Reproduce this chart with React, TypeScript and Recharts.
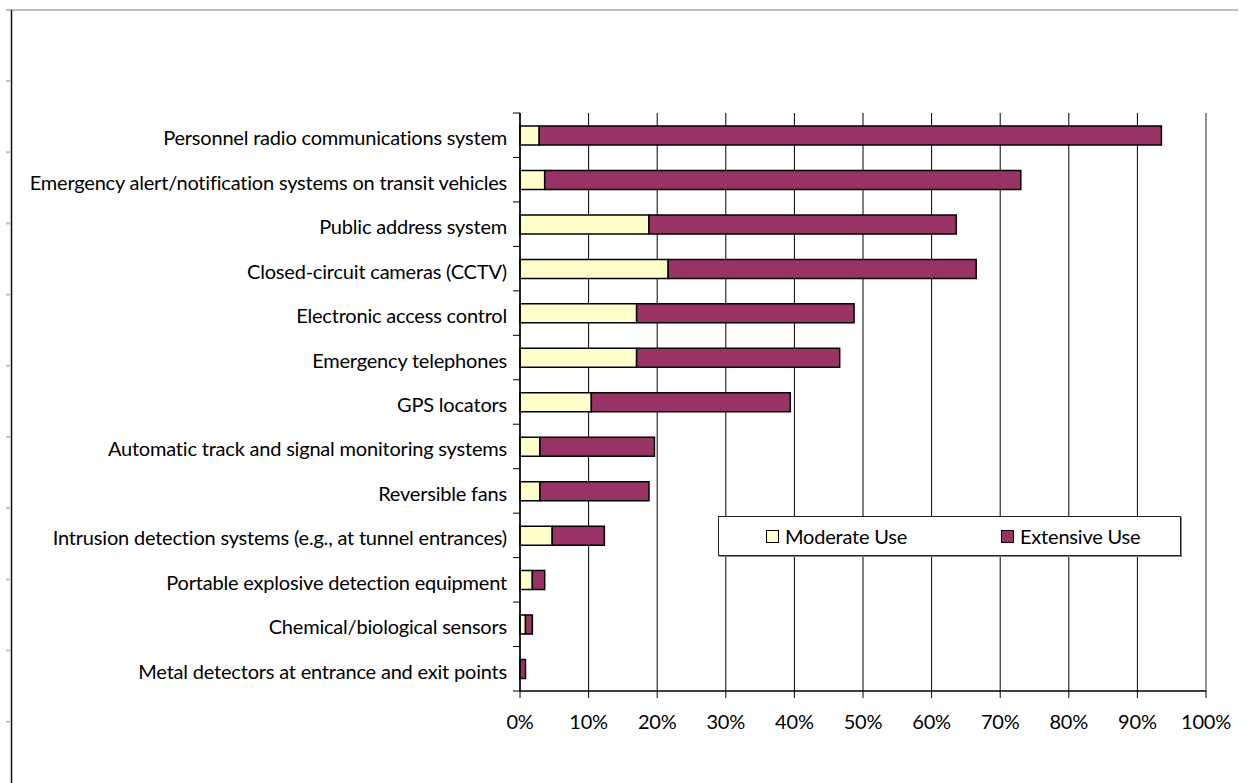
import React from 'react';
import { BarChart, Bar, XAxis, YAxis, CartesianGrid, Legend, ReferenceLine } from 'recharts';

// Security technology usage among transit agencies (percent of respondents)
const categories: string[] = [
  'Personnel radio communications system',
  'Emergency alert/notification systems on transit vehicles',
  'Public address system',
  'Closed-circuit cameras (CCTV)',
  'Electronic access control',
  'Emergency telephones',
  'GPS locators',
  'Automatic track and signal monitoring systems',
  'Reversible fans',
  'Intrusion detection systems (e.g., at tunnel entrances)',
  'Portable explosive detection equipment',
  'Chemical/biological sensors',
  'Metal detectors at entrance and exit points',
];

const moderateUse: number[] = [2.8, 3.6, 18.8, 21.6, 17.0, 17.0, 10.4, 2.9, 2.9, 4.7, 1.8, 0.8, 0];
const extensiveUse: number[] = [90.7, 69.4, 44.8, 44.9, 31.7, 29.6, 29.0, 16.7, 15.9, 7.6, 1.8, 1.0, 0.8];

const percentTicks: number[] = [0, 10, 20, 30, 40, 50, 60, 70, 80, 90, 100];

const seriesNames = { moderate: 'Moderate Use', extensive: 'Extensive Use' };

const data = categories.map((name, i) => ({
  name,
  moderate: moderateUse[i],
  extensive: extensiveUse[i],
}));

const W = 1247;
const H = 783;
const PLOT_LEFT = 520;
const PLOT_TOP = 113;
const PLOT_RIGHT = 1206;
const PLOT_BOTTOM = 691;
const BAND = (PLOT_BOTTOM - PLOT_TOP) / categories.length;

const FONT = 'Lato, "DejaVu Sans", sans-serif';
const FONT_SIZE = 20;
const LETTER_SPACING = -0.2;
const MODERATE_COLOR = '#FFFFCC';
const EXTENSIVE_COLOR = '#993366';

const CategoryTick = (props: any) => {
  const { x, y, payload, index } = props;
  const last = index === categories.length - 1;
  return (
    <g>
      <text
        x={x}
        y={y}
        dy={2}
        textAnchor="end"
        dominantBaseline="central"
        fontFamily={FONT}
        fontSize={FONT_SIZE}
        letterSpacing={LETTER_SPACING}
        fill="#000"
      >
        {payload.value}
      </text>
      <line x1={PLOT_LEFT - 7} x2={PLOT_LEFT} y1={y - BAND / 2} y2={y - BAND / 2} stroke="#000" />
      {last && (
        <line x1={PLOT_LEFT - 7} x2={PLOT_LEFT} y1={y + BAND / 2} y2={y + BAND / 2} stroke="#000" />
      )}
    </g>
  );
};

const LegendBox = () => {
  const swatch = (color: string) => ({
    display: 'inline-block',
    width: 11,
    height: 11,
    background: color,
    border: '1.5px solid #000',
    marginRight: 6,
  });
  return (
    <div
      style={{
        width: 463,
        height: 40,
        boxSizing: 'border-box',
        border: '1px solid #222',
        boxShadow: '1px 1px 0 #888',
        background: '#fff',
        position: 'relative',
        fontFamily: FONT,
        fontSize: FONT_SIZE,
        letterSpacing: LETTER_SPACING,
        color: '#000',
      }}
    >
      <div style={{ position: 'absolute', left: 47, top: 0, height: 38, display: 'flex', alignItems: 'center' }}>
        <span style={swatch(MODERATE_COLOR)} />
        <span>{seriesNames.moderate}</span>
      </div>
      <div style={{ position: 'absolute', left: 282, top: 0, height: 38, display: 'flex', alignItems: 'center' }}>
        <span style={swatch(EXTENSIVE_COLOR)} />
        <span>{seriesNames.extensive}</span>
      </div>
    </div>
  );
};

// Page edge furniture: a ruler-like frame along the top and left edges
const PageFrame = () => {
  const marks: number[] = [];
  for (let y = 81; y < H; y += 71.2) marks.push(y);
  return (
    <svg width={W} height={H} style={{ position: 'absolute', left: 0, top: 0, pointerEvents: 'none' }}>
      <line x1={6} x2={1238} y1={10} y2={10} stroke="#c0c0c0" strokeWidth={2} />
      <line x1={11.5} x2={11.5} y1={10} y2={H} stroke="#111" strokeWidth={1.5} />
      {marks.map((y) => (
        <line key={y} x1={6} x2={11} y1={y} y2={y} stroke="#c0c0c0" strokeWidth={2} />
      ))}
    </svg>
  );
};

export default function App() {
  return (
    <div style={{ position: 'fixed', left: 0, top: 0, width: W, height: H, background: '#fff' }}>
      <PageFrame />
      <div style={{ position: 'absolute', left: 0, top: 0 }}>
        <BarChart
          width={W}
          height={H}
          data={data}
          layout="vertical"
          barCategoryGap={0}
          margin={{ top: PLOT_TOP, right: W - PLOT_RIGHT, bottom: 0, left: 0 }}
        >
          <CartesianGrid horizontal={false} stroke="#000" strokeWidth={1} />
          <XAxis
            type="number"
            domain={[0, 100]}
            ticks={percentTicks}
            tickFormatter={(v: number) => `${v}%`}
            tickSize={7}
            tickMargin={17}
            axisLine={{ stroke: '#000', strokeWidth: 1.5 }}
            tickLine={{ stroke: '#000' }}
            tick={{ fontFamily: FONT, fontSize: FONT_SIZE, fill: '#000', letterSpacing: LETTER_SPACING }}
            height={H - PLOT_BOTTOM}
            interval={0}
          />
          <XAxis
            xAxisId="frame"
            orientation="top"
            type="number"
            domain={[0, 100]}
            tick={false}
            tickLine={false}
            axisLine={{ stroke: '#999', strokeWidth: 1.5 }}
            height={0}
          />
          <YAxis
            type="category"
            dataKey="name"
            width={PLOT_LEFT}
            tickSize={7}
            tickMargin={6}
            tickLine={{ stroke: 'none' }}
            axisLine={{ stroke: '#000', strokeWidth: 1.5 }}
            tick={<CategoryTick />}
            interval={0}
          />
          <ReferenceLine x={100} stroke="#999" strokeWidth={1.5} />
          <Bar
            dataKey="moderate"
            name={seriesNames.moderate}
            stackId="use"
            fill={MODERATE_COLOR}
            stroke="#000"
            strokeWidth={1.5}
            barSize={19}
            isAnimationActive={false}
          />
          <Bar
            dataKey="extensive"
            name={seriesNames.extensive}
            stackId="use"
            fill={EXTENSIVE_COLOR}
            stroke="#000"
            strokeWidth={1.5}
            barSize={19}
            isAnimationActive={false}
          />
          <Legend
            layout="horizontal"
            verticalAlign="middle"
            align="center"
            wrapperStyle={{ left: 718, top: 516, width: 463, height: 40 }}
            content={<LegendBox />}
          />
        </BarChart>
      </div>
    </div>
  );
}
